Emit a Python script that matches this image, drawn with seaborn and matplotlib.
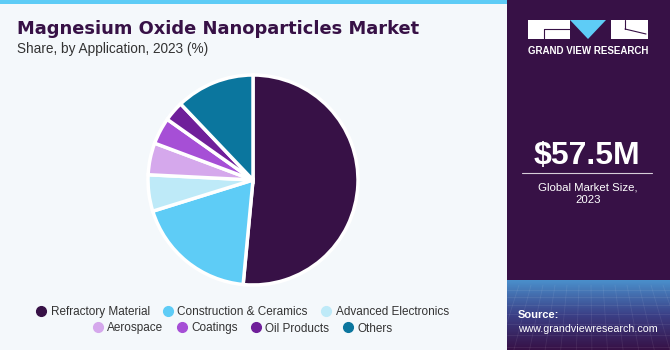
import numpy as np
import matplotlib
matplotlib.use("Agg")
import matplotlib.pyplot as plt
from matplotlib.patches import Rectangle, Polygon
from matplotlib.lines import Line2D
from matplotlib.colors import LinearSegmentedColormap
import seaborn as sns

# ---- data ----
categories = ["Refractory Material", "Construction & Ceramics", "Advanced Electronics",
              "Aerospace", "Coatings", "Oil Products", "Others"]
shares = [51.5, 18.7, 5.6, 4.9, 4.1, 3.1, 12.1]
colors = ["#371146", "#5ECCF6", "#BEEAF8", "#D5A8EC", "#A64FD6", "#6F1F9A", "#0B769E"]
title = "Magnesium Oxide Nanoparticles Market"
subtitle = "Share, by Application, 2023 (%)"
market_value = "$57.5M"
market_label = "Global Market Size,\n2023"

sns.set_theme(style="white")
plt.rcParams["font.family"] = ["Liberation Sans", "DejaVu Sans"]
palette = sns.color_palette(colors)

W, H = 670, 350
fig = plt.figure(figsize=(W / 100, H / 100), dpi=100)
fig.patch.set_facecolor("#F4F8FB")

# background / decoration axes in pixel coordinates
bg = fig.add_axes([0, 0, 1, 1])
bg.set_xlim(0, W)
bg.set_ylim(H, 0)
bg.axis("off")
bg.add_patch(Rectangle((0, 0), 507, 4, color="#5ECCF6", lw=0))
bg.add_patch(Rectangle((507, 0), W - 507, H, color="#371146", lw=0))
# bottom gradient in right panel
grad = np.linspace(0, 1, 100)[:, None]
cmap = LinearSegmentedColormap.from_list("g", ["#371146", "#3B3F86", "#4A8FCB"])
bg.imshow(grad, extent=(507, W, 350, 280), cmap=cmap, aspect="auto", origin="lower", zorder=1)
# faint grid in gradient
for x in np.arange(507, W + 40, 12):
    bg.plot([x, x + (x - 588) * 0.3], [285, 350], color="white", alpha=0.08, lw=0.6, zorder=2)
for y in [290, 297, 305, 314, 324, 335, 347]:
    bg.plot([507, W], [y, y], color="white", alpha=0.08, lw=0.6, zorder=2)

# logo
bg.add_patch(Rectangle((528, 20), 42, 19, color="white", lw=0, zorder=3))
bg.add_patch(Polygon([[570, 20], [606, 20], [588, 39]], closed=True, color="#5ECCF6", lw=0, zorder=3))
bg.add_patch(Rectangle((611, 20), 37, 19, color="white", lw=0, zorder=3))
bg.plot([544, 570], [29, 29], color="#371146", lw=0.8, zorder=4)
bg.plot([544, 544], [29, 39], color="#371146", lw=0.8, zorder=4)
bg.plot([625, 646], [29, 34], color="#371146", lw=0.8, zorder=4)
bg.plot([625, 625], [20, 29], color="#371146", lw=0.8, zorder=4)
bg.text(588, 51, "GRAND VIEW RESEARCH", color="white", fontsize=7.0, fontweight="bold",
        ha="center", va="center", zorder=4)
bg.text(587, 156, market_value, color="white", fontsize=23, fontweight="bold",
        ha="center", va="center", zorder=4)
bg.plot([522, 652], [173, 173], color="white", lw=0.8, alpha=0.8, zorder=4)
bg.text(588, 194, market_label, color="white", fontsize=8.2, ha="center", va="center",
        linespacing=1.25, zorder=4)
bg.text(518, 315, "Source:", color="white", fontsize=8.0, fontweight="bold",
        ha="left", va="center", zorder=4)
bg.text(518, 329, "www.grandviewresearch.com", color="white", fontsize=7.7,
        ha="left", va="center", zorder=4)

# title
bg.text(17, 29, title, color="#371146", fontsize=12.9, fontweight="bold", ha="left", va="center",
        family="DejaVu Sans")
bg.text(17, 49, subtitle, color="#333333", fontsize=9.8, ha="left", va="center")

# pie
cx, cy, r = 253, 180, 105
ax = fig.add_axes([(cx - r) / W, (H - cy - r) / H, 2 * r / W, 2 * r / H])
ax.pie(shares, colors=palette, startangle=90, counterclock=False,
       wedgeprops=dict(edgecolor="white", linewidth=2.5))
ax.set_xlim(-1.0, 1.0)
ax.set_ylim(-1.0, 1.0)
ax.set_aspect("equal")
ax.axis("off")

# legends (two rows)
def handles(idx):
    return [Line2D([], [], marker="o", linestyle="", markersize=7,
                   markerfacecolor=colors[i], markeredgecolor=colors[i]) for i in idx]

row1 = [0, 1, 2]
row2 = [3, 4, 5, 6]
fig.legend(handles(row1), [categories[i] for i in row1], loc="center",
           bbox_to_anchor=(242 / W, 1 - 312 / H), ncol=3, frameon=False,
           fontsize=8.5, handletextpad=0.3, columnspacing=1.05, handlelength=1.0,
           labelcolor="#333333")
fig.legend(handles(row2), [categories[i] for i in row2], loc="center",
           bbox_to_anchor=(242 / W, 1 - 328.5 / H), ncol=4, frameon=False,
           fontsize=8.5, handletextpad=0.3, columnspacing=1.05, handlelength=1.0,
           labelcolor="#333333")

fig.savefig("out.png", dpi=100, facecolor=fig.get_facecolor())
